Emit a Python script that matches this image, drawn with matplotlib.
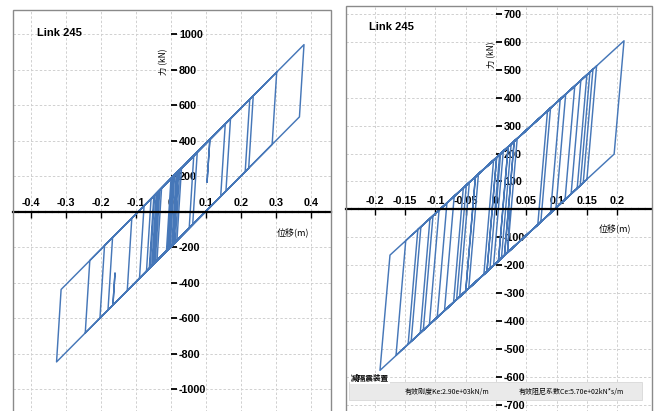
import numpy as np
import matplotlib
matplotlib.use("Agg")
import matplotlib.pyplot as plt
from matplotlib.patches import Rectangle

plt.rcParams['axes.unicode_minus'] = False
tick_font = ['Liberation Sans', 'DejaVu Sans']
cjk_font = ['Noto Sans CJK SC', 'DejaVu Sans']

# hysteresis loop vertices: displacement (m), force (kN)
left_disp = [0.000, 0.007, 0.020, 0.007, -0.050, -0.037, 0.030, 0.017, -0.060, -0.047,
             0.075, 0.062, -0.090, -0.077, 0.170, 0.157, -0.125, -0.112, 0.235, 0.222,
             -0.245, -0.232, 0.380, 0.367, -0.327, -0.314, 0.302, 0.289, -0.166, -0.160,
             -0.166, -0.203, -0.190, 0.225, 0.212, -0.180, -0.167, 0.111, 0.103, 0.111,
             0.155, 0.142, -0.070, -0.057, 0.065, 0.052, -0.045, -0.032, 0.010, -0.003,
             -0.055, -0.042, 0.000, -0.013, -0.040, -0.027, 0.025, 0.012, -0.010, 0.003,
             0.015, 0.002, -0.005, 0.008, 0.020, 0.007, -0.048, -0.035, 0.018, 0.005,
             -0.062, -0.049, 0.005, -0.008, -0.052, -0.039, -0.043]
left_force = [0, 200, 226, -182, -295, 113, 246, -162, -315, 93,
              335, -73, -375, 33, 524, 116, -445, -36, 653, 245,
              -683, -275, 941, 534, -846, -438, 786, 379, -526, -346,
              -526, -600, -191, 633, 225, -554, -146, 406, 166, 406,
              494, 86, -335, 73, 315, -93, -285, 122, 206, -202,
              -305, 103, 186, -222, -276, 132, 236, -172, -216, 192,
              216, -192, -206, 202, 226, -182, -291, 116, 222, -186,
              -319, 89, 196, -212, -299, 109, 20]

right_disp = [0.000, 0.0075, 0.020, 0.004, -0.015, 0.001, 0.030, 0.014, -0.050, -0.034,
              0.001, -0.015, -0.065, -0.049, 0.090, 0.074, -0.085, -0.069, 0.115, 0.099,
              -0.110, -0.094, 0.140, 0.124, -0.125, -0.109, 0.160, 0.144, -0.140, -0.124,
              0.2113, 0.195, -0.1915, -0.175, 0.166, 0.150, -0.165, -0.149, 0.155, 0.139,
              -0.145, -0.129, 0.150, 0.134, -0.120, -0.104, 0.130, 0.114, -0.097, -0.081,
              0.106, 0.090, -0.070, -0.054, 0.085, 0.069, -0.050, -0.034, 0.030, 0.014,
              -0.020, -0.004, 0.020, 0.004, -0.010, 0.006, 0.025, 0.009, -0.045, -0.029,
              0.012, -0.004, -0.060, -0.044, 0.035, 0.019, 0.023]
right_force = [0, 199, 224, -185, -223, 186, 244, -165, -293, 116,
               186, -223, -323, 87, 363, -45, -363, 47, 413, 5,
               -413, -3, 462, 55, -443, -33, 502, 95, -473, -63,
               604, 198, -577, -164, 514, 107, -523, -112, 492, 85,
               -483, -72, 482, 75, -433, -23, 442, 35, -387, 23,
               395, -13, -333, 77, 353, -55, -293, 116, 244, -165,
               -233, 176, 224, -185, -213, 196, 234, -175, -283, 126,
               208, -201, -313, 97, 254, -155, 0]

left_xticks = [-0.4, -0.3, -0.2, -0.1, 0, 0.1, 0.2, 0.3, 0.4]
left_xlabels = ['-0.4', '-0.3', '-0.2', '-0.1', '0', '0.1', '0.2', '0.3', '0.4']
left_yticks = [-1000, -800, -600, -400, -200, 200, 400, 600, 800, 1000]

right_xticks = [-0.2, -0.15, -0.1, -0.05, 0, 0.05, 0.1, 0.15, 0.2]
right_xlabels = ['-0.2', '-0.15', '-0.1', '-0.05', '0', '0.05', '0.1', '0.15', '0.2']
right_yticks = [-700, -600, -500, -400, -300, -200, -100, 100, 200, 300, 400, 500, 600, 700]

W, H = 654, 411
line_color = '#4677b8'

fig = plt.figure(figsize=(W / 100, H / 100), dpi=100)


def px_box(x0, x1, y0, y1):
    # pixel box (top-left origin) -> figure fraction [left, bottom, width, height]
    return [x0 / W, 1 - y1 / H, (x1 - x0) / W, (y1 - y0) / H]


def setup(ax, xticks, xlabels, yticks):
    ax.spines['left'].set_visible(False)
    ax.spines['bottom'].set_visible(False)
    ax.spines['top'].set_position(('data', 0))
    ax.spines['top'].set_color('black')
    ax.spines['top'].set_linewidth(1.6)
    ax.spines['top'].set_linestyle((0, (2.2, 0.8)))
    ax.spines['right'].set_position(('data', 0))
    ax.spines['right'].set_color('none')
    ax.xaxis.set_ticks_position('top')
    ax.yaxis.set_ticks_position('right')
    ax.set_xticks(xticks)
    ax.set_xticklabels(xlabels)
    ax.set_yticks(yticks)
    ax.tick_params(axis='x', direction='in', length=4, width=1.0, pad=2.5,
                   labelsize=7.8, colors='black')
    ax.tick_params(axis='y', direction='out', length=4.5, width=1.3, pad=1.2,
                   labelsize=7.8, colors='black')
    for lab in ax.get_xticklabels() + ax.get_yticklabels():
        lab.set_family(tick_font)
        lab.set_fontweight('bold')
    ax.grid(True, color='#d0d0d0', linestyle=(0, (2.5, 2)), linewidth=0.7)
    ax.set_axisbelow(True)
    ax.add_patch(Rectangle((0, 0), 1, 1, transform=ax.transAxes, fill=False,
                           edgecolor='#8a8a8a', linewidth=1.0, clip_on=False, zorder=5))


# left panel
ax1 = fig.add_axes(px_box(12.7, 330.7, 10, 415))
ax1.plot(left_disp, left_force, color=line_color, linewidth=1.05)
ax1.set_xlim(-0.4523, 0.4563)
ax1.set_ylim(-1145, 1136)
setup(ax1, left_xticks, left_xlabels, left_yticks)

# right panel
ax2 = fig.add_axes(px_box(346, 651.7, 6, 415))
ax2.plot(right_disp, right_force, color=line_color, linewidth=1.05)
ax2.set_xlim(-0.2476, 0.257)
ax2.set_ylim(-737, 728.7)
setup(ax2, right_xticks, right_xlabels, right_yticks)


def ftext(px, py, s, **kw):
    fig.text(px / W, 1 - py / H, s, **kw)


ftext(37, 33, 'Link 245', fontsize=8, fontweight='bold', family=tick_font, va='center')
ftext(369, 27, 'Link 245', fontsize=8, fontweight='bold', family=tick_font, va='center')

ftext(163.5, 62, '力 (kN)', fontsize=6, family=cjk_font, rotation=90, ha='center', va='center')
ftext(491.5, 55, '力 (kN)', fontsize=6, family=cjk_font, rotation=90, ha='center', va='center')

ftext(292.5, 233, '位移(m)', fontsize=6.5, family=cjk_font, ha='center', va='center')
ftext(614.7, 229, '位移(m)', fontsize=6.5, family=cjk_font, ha='center', va='center')

# info band at the bottom of the right panel
fig.patches.append(Rectangle((349 / W, 1 - 400 / H), (642 - 349) / W, (400 - 381.7) / H,
                             transform=fig.transFigure, facecolor='#eaeaea',
                             edgecolor='#d8d8d8', linewidth=0.6, zorder=6))
ftext(350.7, 378.5, '减隔震装置', fontsize=5.5, fontweight='bold', family=cjk_font,
      va='center', zorder=7,
      bbox=dict(facecolor='white', edgecolor='none', pad=0.5))
ftext(446.7, 391.5, '有效刚度Ke:2.90e+03kN/m', fontsize=5, family=cjk_font,
      ha='center', va='center', zorder=7)
ftext(571.7, 391.5, '有效阻尼系数Ce:5.70e+02kN*s/m', fontsize=5, family=cjk_font,
      ha='center', va='center', zorder=7)

fig.savefig('out.png', dpi=100)
